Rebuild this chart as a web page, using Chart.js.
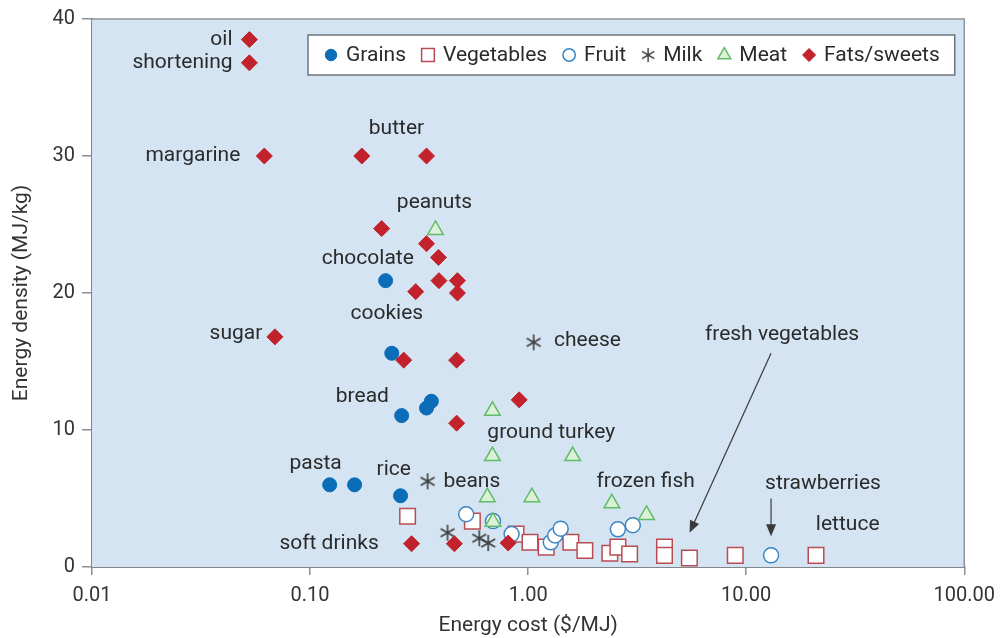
<!DOCTYPE html>
<html>
<head>
<meta charset="utf-8">
<title>Energy density vs energy cost</title>
<script src="https://cdn.jsdelivr.net/npm/chart.js@4/dist/chart.umd.min.js"></script>
<style>
  body { margin: 0; background: #ffffff; }
  #wrap { width: 1004px; height: 638px; }
</style>
</head>
<body>
<div id="wrap"><canvas id="chart"></canvas></div>
<script>
"use strict";

// food groups: energy cost ($/MJ) and energy density (MJ/kg)
const grainsCost = [0.222, 0.237, 0.36, 0.342, 0.263, 0.123, 0.16, 0.26];
const grainsDensity = [20.9, 15.6, 12.1, 11.6, 11.05, 6.0, 6.0, 5.2];

const vegCost = [0.28, 0.555, 0.88, 1.02, 1.21, 1.57, 1.82, 2.37, 2.58, 2.92, 4.22, 4.22, 5.49, 8.91, 20.9];
const vegDensity = [3.7, 3.35, 2.4, 1.8, 1.45, 1.8, 1.2, 1.0, 1.45, 0.95, 1.45, 0.85, 0.65, 0.85, 0.85];

const fruitCost = [0.52, 0.69, 0.84, 1.27, 1.33, 1.41, 2.58, 3.02, 13.0];
const fruitDensity = [3.85, 3.35, 2.4, 1.8, 2.3, 2.8, 2.75, 3.05, 0.85];

const milkCost = [1.06, 0.346, 0.427, 0.597, 0.656];
const milkDensity = [16.4, 6.25, 2.5, 2.1, 1.75];

const meatCost = [0.376, 0.686, 0.686, 1.6, 0.65, 1.04, 2.42, 3.49, 0.69];
const meatDensity = [24.6, 11.4, 8.1, 8.1, 5.1, 5.1, 4.65, 3.8, 3.3];

const fatsCost = [0.0527, 0.0527, 0.0617, 0.1727, 0.342, 0.213, 0.342, 0.388, 0.39, 0.474, 0.305, 0.474, 0.069, 0.269, 0.47, 0.91, 0.47, 0.292, 0.459, 0.81];
const fatsDensity = [38.5, 36.8, 30, 30, 30, 24.7, 23.6, 22.6, 20.9, 20.9, 20.1, 20.0, 16.8, 15.1, 15.1, 12.2, 10.5, 1.7, 1.7, 1.75];

const xTicks = [0.01, 0.1, 1, 10, 100];

// food name labels, anchored in data units
const labelText = ["oil", "shortening", "margarine", "butter", "peanuts", "chocolate", "cookies", "sugar", "cheese", "bread",
  "ground turkey", "pasta", "rice", "beans", "frozen fish", "strawberries", "lettuce", "soft drinks", "fresh vegetables"];
const labelCost = [0.0441, 0.0441, 0.0479, 0.249, 0.372, 0.184, 0.225, 0.0604, 1.315, 0.23,
  0.65, 0.106, 0.242, 0.409, 3.46, 22.5, 29.2, 0.2065, 14.6];
const labelDensity = [38.5, 36.8, 30, 32.0, 26.6, 22.5, 18.5, 17.0, 16.5, 12.4,
  9.8, 7.56, 7.1, 6.25, 6.25, 6.1, 3.05, 1.67, 16.95];
const labelAlign = ["right", "right", "right", "center", "center", "center", "center", "right", "left", "right",
  "left", "center", "center", "left", "center", "center", "center", "right", "center"];

// arrows: [fromCost, fromDensity, toCost, toDensity]
const arrows = [
  [13.0, 15.6, 5.5, 2.5],
  [13.0, 5.0, 13.0, 2.25]
];

const textColor = "#2b2b2b";
const fontFamily = "Roboto, 'Open Sans', sans-serif";

function toPoints(xs, ys) {
  return xs.map((x, i) => ({ x: x, y: ys[i] }));
}

// six-armed asterisk used for the milk group
function makeAsterisk(size, color) {
  const c = document.createElement("canvas");
  c.width = size;
  c.height = size;
  const g = c.getContext("2d");
  g.strokeStyle = color;
  g.lineWidth = 1.6;
  const r = size / 2 - 1;
  g.beginPath();
  for (let k = 0; k < 3; k++) {
    const a = Math.PI / 2 + k * Math.PI / 3;
    g.moveTo(size / 2 + r * Math.cos(a), size / 2 + r * Math.sin(a));
    g.lineTo(size / 2 - r * Math.cos(a), size / 2 - r * Math.sin(a));
  }
  g.stroke();
  return c;
}
const asterisk = makeAsterisk(18, "#3f3f3f");

const series = [
  { label: "Grains", data: toPoints(grainsCost, grainsDensity), pointStyle: "circle", pointRadius: 7,
    backgroundColor: "#0b6cb8", borderColor: "#0b6cb8", borderWidth: 1, order: 4 },
  { label: "Vegetables", data: toPoints(vegCost, vegDensity), pointStyle: "rect", pointRadius: 11,
    backgroundColor: "#ffffff", borderColor: "#b94b52", borderWidth: 1.5, order: 5 },
  { label: "Fruit", data: toPoints(fruitCost, fruitDensity), pointStyle: "circle", pointRadius: 7.5,
    backgroundColor: "#ffffff", borderColor: "#3a86c4", borderWidth: 1.5, order: 3 },
  { label: "Milk", data: toPoints(milkCost, milkDensity), pointStyle: asterisk, pointRadius: 9,
    backgroundColor: "#3f3f3f", borderColor: "#3f3f3f", borderWidth: 1.5, order: 2 },
  { label: "Meat", data: toPoints(meatCost, meatDensity), pointStyle: "triangle", pointRadius: 9,
    backgroundColor: "#dcf1d8", borderColor: "#62bb68", borderWidth: 1.5, order: 0 },
  { label: "Fats/sweets", data: toPoints(fatsCost, fatsDensity), pointStyle: "rectRot", pointRadius: 8,
    backgroundColor: "#c1222b", borderColor: "#c1222b", borderWidth: 1, order: 1 }
];

const datasets = series.map(s => ({
  label: s.label,
  data: s.data,
  pointStyle: s.pointStyle,
  pointRadius: s.pointRadius,
  pointHoverRadius: s.pointRadius,
  backgroundColor: s.backgroundColor,
  borderColor: s.borderColor,
  pointBorderWidth: s.borderWidth,
  order: s.order
}));

// light blue plot area with a thin frame on top and right
const plotFrame = {
  id: "plotFrame",
  beforeDatasetsDraw(chart) {
    const { ctx, chartArea: a } = chart;
    ctx.save();
    ctx.fillStyle = "#d4e4f2";
    ctx.fillRect(a.left, a.top, a.right - a.left, a.bottom - a.top);
    ctx.strokeStyle = "#8f959b";
    ctx.lineWidth = 1.5;
    ctx.beginPath();
    ctx.moveTo(a.left, a.top);
    ctx.lineTo(a.right, a.top);
    ctx.lineTo(a.right, a.bottom);
    ctx.stroke();
    ctx.restore();
  }
};

function drawArrow(ctx, x1, y1, x2, y2) {
  const ang = Math.atan2(y2 - y1, x2 - x1);
  const head = 12;
  const tip = 5;
  ctx.beginPath();
  ctx.moveTo(x1, y1);
  ctx.lineTo(x2 - Math.cos(ang) * head * 0.8, y2 - Math.sin(ang) * head * 0.8);
  ctx.stroke();
  ctx.beginPath();
  ctx.moveTo(x2, y2);
  ctx.lineTo(x2 - head * Math.cos(ang) + tip * Math.sin(ang), y2 - head * Math.sin(ang) - tip * Math.cos(ang));
  ctx.lineTo(x2 - head * Math.cos(ang) - tip * Math.sin(ang), y2 - head * Math.sin(ang) + tip * Math.cos(ang));
  ctx.closePath();
  ctx.fill();
}

// food names, arrows and the legend box
const annotations = {
  id: "annotations",
  afterDraw(chart) {
    const { ctx } = chart;
    const xs = chart.scales.x;
    const ys = chart.scales.y;
    ctx.save();
    ctx.font = "21px " + fontFamily;
    ctx.fillStyle = textColor;
    ctx.textBaseline = "middle";
    labelText.forEach((t, i) => {
      ctx.textAlign = labelAlign[i];
      ctx.fillText(t, xs.getPixelForValue(labelCost[i]), ys.getPixelForValue(labelDensity[i]));
    });

    ctx.strokeStyle = "#3a3a3a";
    ctx.fillStyle = "#3a3a3a";
    ctx.lineWidth = 1.2;
    arrows.forEach(a => {
      drawArrow(ctx, xs.getPixelForValue(a[0]), ys.getPixelForValue(a[1]),
        xs.getPixelForValue(a[2]), ys.getPixelForValue(a[3]));
    });

    // legend
    const boxLeft = chart.chartArea.left + 216;
    const boxTop = chart.chartArea.top + 16;
    const boxH = 40;
    const midY = boxTop + boxH / 2;
    ctx.font = "21px " + fontFamily;
    let x = boxLeft + 23;
    const items = [];
    series.forEach(s => {
      const w = ctx.measureText(s.label).width;
      items.push({ s: s, cx: x, tx: x + 15 });
      x = x + 15 + w + 22;
    });
    const boxRight = x - 22 + 15;
    ctx.fillStyle = "#ffffff";
    ctx.fillRect(boxLeft, boxTop, boxRight - boxLeft, boxH);
    ctx.strokeStyle = "#6f7479";
    ctx.lineWidth = 1.5;
    ctx.strokeRect(boxLeft, boxTop, boxRight - boxLeft, boxH);

    items.forEach(it => {
      const s = it.s;
      ctx.fillStyle = s.backgroundColor;
      ctx.strokeStyle = s.borderColor;
      ctx.lineWidth = s.borderWidth;
      if (typeof s.pointStyle === "string") {
        Chart.helpers.drawPoint(ctx, {
          pointStyle: s.pointStyle, radius: s.pointRadius * 0.82, borderWidth: s.borderWidth, rotation: 0
        }, it.cx, midY);
      } else {
        ctx.drawImage(s.pointStyle, it.cx - 8, midY - 8, 16, 16);
      }
      ctx.fillStyle = textColor;
      ctx.textAlign = "left";
      ctx.fillText(s.label, it.tx, midY + 1);
    });
    ctx.restore();
  }
};

const config = {
  type: "scatter",
  data: { datasets: datasets },
  options: {
    responsive: true,
    maintainAspectRatio: false,
    animation: false,
    layout: { padding: { top: 17, right: 36, left: 0, bottom: 0 } },
    plugins: {
      legend: { display: false },
      tooltip: { enabled: false }
    },
    scales: {
      x: {
        type: "logarithmic",
        min: 0.01,
        max: 100,
        afterBuildTicks(scale) {
          scale.ticks = xTicks.map(v => ({ value: v, major: true }));
        },
        afterFit(scale) { scale.height = 71; },
        ticks: {
          autoSkip: false,
          maxRotation: 0,
          padding: 9,
          color: "#333333",
          font: { family: fontFamily, size: 20 },
          callback: v => Number(v).toFixed(2)
        },
        grid: { drawOnChartArea: false, tickLength: 8, color: "#8a8f95", lineWidth: 1.5 },
        border: { display: true, color: "#80868c", width: 2 },
        title: {
          display: true,
          text: "Energy cost ($/MJ)",
          color: "#333333",
          font: { family: fontFamily, size: 21 },
          padding: { top: 0, bottom: 0 }
        }
      },
      y: {
        min: 0,
        max: 40,
        afterFit(scale) { scale.width = 92; },
        ticks: {
          stepSize: 10,
          padding: 7,
          color: "#333333",
          font: { family: fontFamily, size: 20 }
        },
        grid: { drawOnChartArea: false, tickLength: 10, color: "#8a8f95", lineWidth: 1.5 },
        border: { display: true, color: "#80868c", width: 2 },
        title: {
          display: true,
          text: "Energy density (MJ/kg)",
          color: "#333333",
          font: { family: fontFamily, size: 21 },
          padding: { top: 9, bottom: 0 }
        }
      }
    }
  },
  plugins: [plotFrame, annotations]
};

new Chart(document.getElementById("chart"), config);
</script>
</body>
</html>
